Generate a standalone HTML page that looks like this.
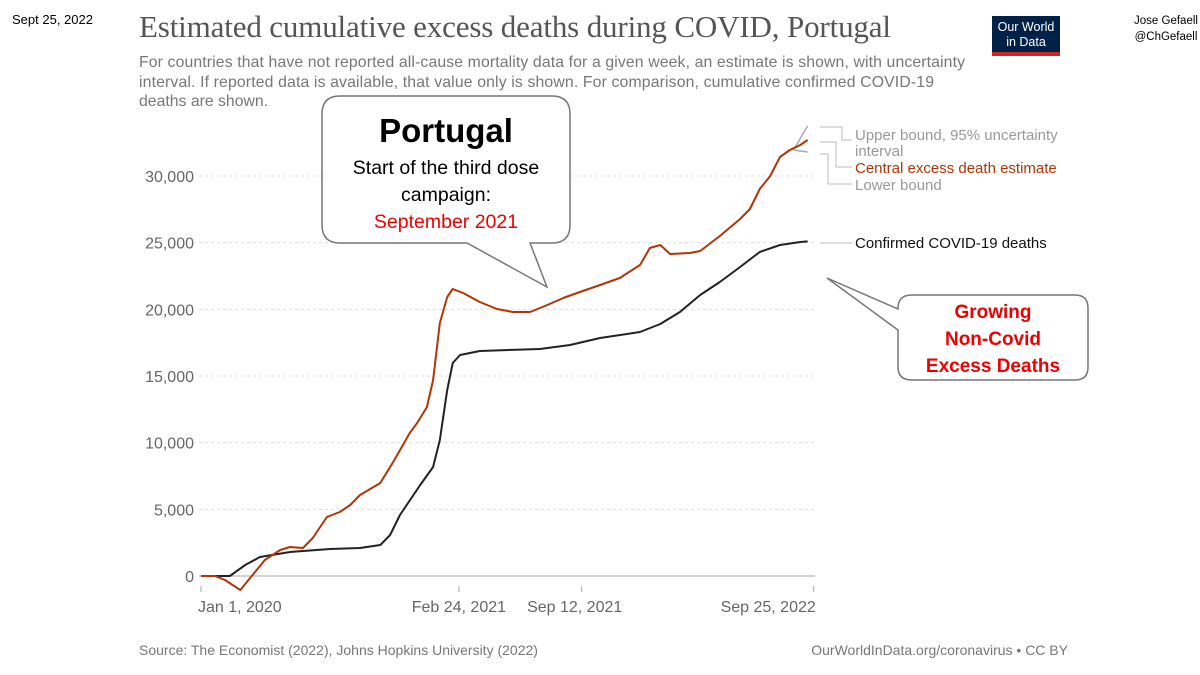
<!DOCTYPE html>
<html><head><meta charset="utf-8"><style>
body{margin:0;background:#fff}
svg{display:block}
.ax{font-family:"Liberation Sans",sans-serif;font-size:16px;fill:#666}
</style></head><body>
<svg id="chart" width="1200" height="675" viewBox="0 0 1200 675" xmlns="http://www.w3.org/2000/svg">
<text x="12" y="24" font-family="Liberation Sans, sans-serif" font-size="13" fill="#000">Sept 25, 2022</text>
<text x="139" y="37" font-family="Liberation Serif, serif" font-size="31" fill="#555" textLength="752">Estimated cumulative excess deaths during COVID, Portugal</text>
<g font-family="Liberation Sans, sans-serif" font-size="15.8" fill="#777">
<text x="139" y="67" textLength="826">For countries that have not reported all-cause mortality data for a given week, an estimate is shown, with uncertainty</text>
<text x="139" y="87" textLength="795">interval. If reported data is available, that value only is shown. For comparison, cumulative confirmed COVID-19</text>
<text x="139" y="106">deaths are shown.</text>
</g>
<g>
<rect x="992" y="16" width="68" height="40" fill="#002147"/>
<rect x="992" y="52" width="68" height="4" fill="#ce261e"/>
<text x="1026" y="31" text-anchor="middle" font-family="Liberation Sans, sans-serif" font-size="12.5" fill="#fff">Our World</text>
<text x="1026" y="46" text-anchor="middle" font-family="Liberation Sans, sans-serif" font-size="12.5" fill="#fff">in Data</text>
</g>
<text x="1166" y="24" text-anchor="middle" font-family="Liberation Sans, sans-serif" font-size="11.5" fill="#000">Jose Gefaell</text>
<text x="1166" y="40" text-anchor="middle" font-family="Liberation Sans, sans-serif" font-size="11.5" fill="#000">@ChGefaell</text>
<g id="grid"></g><g id="xaxis"></g><g id="series"></g>
<g font-family="Liberation Sans, sans-serif" font-size="15">
<polyline points="820,127 842,127 842,140 852,140" fill="none" stroke="#bbb"/>
<polyline points="820,142 836,142 836,167 852,167" fill="none" stroke="#bbb"/>
<polyline points="820,154 828,154 828,184 852,184" fill="none" stroke="#bbb"/>
<line x1="820" y1="243" x2="852" y2="243" stroke="#bbb"/>
<text x="855" y="140" fill="#999">Upper bound, 95% uncertainty</text>
<text x="855" y="156" fill="#999">interval</text>
<text x="855" y="173" fill="#b13507">Central excess death estimate</text>
<text x="855" y="190" fill="#999">Lower bound</text>
<text x="855" y="248" fill="#111">Confirmed COVID-19 deaths</text>
</g>
<g>
<path d="M340,96 H552 Q570,96 570,114 V225 Q570,243 552,243 H530 L547,287 L467,243 H340 Q322,243 322,225 V114 Q322,96 340,96 Z" fill="#fff" stroke="#777" stroke-width="1.5"/>
<text x="446" y="142" text-anchor="middle" font-family="Liberation Sans, sans-serif" font-weight="bold" font-size="33" fill="#000">Portugal</text>
<text x="446" y="174" text-anchor="middle" font-family="Liberation Sans, sans-serif" font-size="19.5" fill="#000">Start of the third dose</text>
<text x="446" y="201" text-anchor="middle" font-family="Liberation Sans, sans-serif" font-size="19.5" fill="#000">campaign:</text>
<text x="446" y="228" text-anchor="middle" font-family="Liberation Sans, sans-serif" font-size="19.5" fill="#e00">September 2021</text>
</g>
<g>
<path d="M912,295 H1075 Q1088,295 1088,308 V367 Q1088,380 1075,380 H912 Q898,380 898,367 V330 L827,278 L898,309 V308 Q898,295 912,295 Z" fill="#fff" stroke="#777" stroke-width="1.5"/>
<g font-family="Liberation Sans, sans-serif" font-weight="bold" font-size="19" fill="#e00" text-anchor="middle">
<text x="993" y="318">Growing</text><text x="993" y="345">Non-Covid</text><text x="993" y="372">Excess Deaths</text></g>
</g>
<text x="139" y="655" font-family="Liberation Sans, sans-serif" font-size="14" fill="#777">Source: The Economist (2022), Johns Hopkins University (2022)</text>
<text x="1068" y="655" text-anchor="end" font-family="Liberation Sans, sans-serif" font-size="14" fill="#777">OurWorldInData.org/coronavirus • CC BY</text>
</svg>
<script>
const yTicks=[0,5000,10000,15000,20000,25000,30000];
const xTickDays=[0,420,620,998];
const xTickLabels=["Jan 1, 2020","Feb 24, 2021","Sep 12, 2021","Sep 25, 2022"];
const excessDays=[0,23,39,64,88,104,129,145,166,182,205,226,243,259,292,313,340,352,368,378,389,401,410,427,454,482,508,536,564,590,617,650,682,715,731,748,764,796,813,845,878,894,910,927,943,959,976,988];
const excessVals=[0,0,-300,-1050,300,1200,1950,2175,2100,2850,4425,4800,5325,6075,6975,8550,10725,11475,12675,14700,18975,20925,21525,21225,20550,20025,19800,19800,20325,20850,21300,21825,22350,23325,24600,24825,24150,24225,24375,25500,26775,27525,29025,30000,31425,31950,32325,32700];
const upperDays=[965,988];const upperVals=[31950,33750];
const lowerDays=[965,988];const lowerVals=[31950,31800];
const confDays=[15,47,72,96,145,210,259,292,308,324,357,378,389,401,410,422,454,552,601,650,715,748,780,813,845,878,910,943,976,988];
const confVals=[0,0,825,1425,1800,2025,2100,2325,3075,4575,6825,8175,10200,13950,15975,16575,16875,17025,17325,17850,18300,18900,19800,21075,22050,23175,24300,24825,25050,25100];
const NS="http://www.w3.org/2000/svg";
const X=d=>201+d*0.614, Y=v=>576-v*400/30000;
function mk(t,a,p){const e=document.createElementNS(NS,t);for(const k in a)e.setAttribute(k,a[k]);p.appendChild(e);return e;}
const grid=document.getElementById('grid');
yTicks.forEach(v=>{
 const l=mk('line',{x1:199,x2:815,y1:Y(v),y2:Y(v),stroke:v?'#ddd':'#aaa','stroke-dasharray':v?'3,3':'none'},grid);
 
 
 const t=mk('text',{x:194,y:Y(v)+6,'text-anchor':'end',class:'ax'},grid);t.textContent=v.toLocaleString('en-US');
 
 
});
const xa=document.getElementById('xaxis');
xTickDays.forEach((d,i)=>{
 const l=mk('line',{x1:X(d),x2:X(d),y1:586,y2:592,stroke:'#aaa'},xa);
 
 
 const anc=i==0?'start':(i==3?'end':'middle');
 const xx=i==0?X(d)-3:(i==3?X(d)+2:X(d)+(i==2?-7:0));
 const t=mk('text',{x:xx,y:612,'text-anchor':anc,class:'ax'},xa);t.textContent=xTickLabels[i];
 
 
});
const s=document.getElementById('series');
function line(ds,vs,c,w,name){const p=mk('polyline',{points:ds.map((d,i)=>X(d)+','+Y(vs[i])).join(' '),fill:'none',stroke:c,'stroke-width':w,'stroke-linejoin':'round'},s);
 
 }
line(upperDays,upperVals,'#aaa',1.5,'upper-bound-line');
line(lowerDays,lowerVals,'#aaa',1.5,'lower-bound-line');
line(confDays,confVals,'#222',2,'confirmed-deaths-line');
line(excessDays,excessVals,'#b13507',2,'excess-deaths-line');
</script>
</body></html>
